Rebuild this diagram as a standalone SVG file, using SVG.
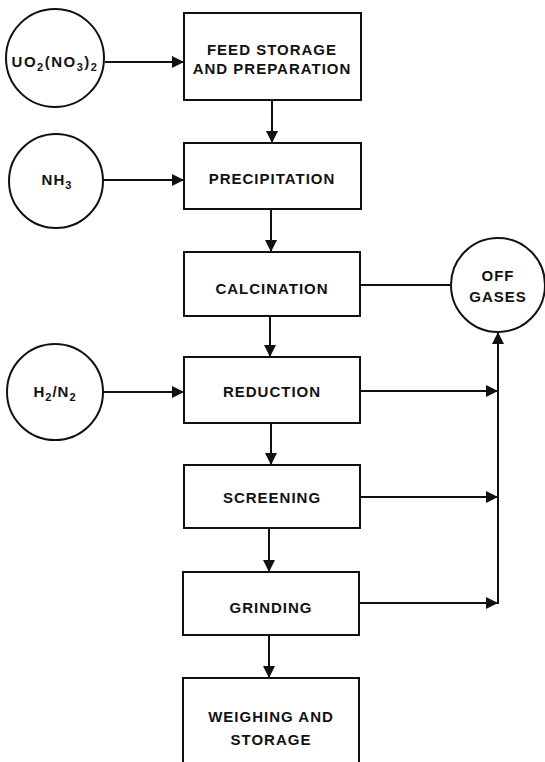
<svg xmlns="http://www.w3.org/2000/svg" width="545" height="762" viewBox="0 0 545 762">
<defs>
<style>
.box{fill:#fff;stroke:#111;stroke-width:2}
.circ{fill:#fff;stroke:#111;stroke-width:2}
.ln{fill:none;stroke:#111;stroke-width:2}
.t{font-family:"Liberation Sans",Arial,sans-serif;font-weight:bold;font-size:15px;letter-spacing:1px;fill:#111;text-anchor:middle}
.sub{font-size:11px}
</style>
<marker id="ah" viewBox="0 0 12 12" refX="12" refY="6" markerWidth="12" markerHeight="12" markerUnits="userSpaceOnUse" orient="auto">
<path d="M0,0 L12,6 L0,12 Z" fill="#111"/>
</marker>
</defs>
<rect width="545" height="762" fill="#fff"/>

<g id="connectors">
<line class="ln" x1="105" y1="62" x2="184" y2="62" marker-end="url(#ah)"/>
<line class="ln" x1="103" y1="180" x2="184" y2="180" marker-end="url(#ah)"/>
<line class="ln" x1="103" y1="392" x2="184" y2="392" marker-end="url(#ah)"/>
<line class="ln" x1="272" y1="100" x2="272" y2="143" marker-end="url(#ah)"/>
<line class="ln" x1="271" y1="209" x2="271" y2="252" marker-end="url(#ah)"/>
<line class="ln" x1="270" y1="316" x2="270" y2="357" marker-end="url(#ah)"/>
<line class="ln" x1="271" y1="423" x2="271" y2="465" marker-end="url(#ah)"/>
<line class="ln" x1="269" y1="528" x2="269" y2="572" marker-end="url(#ah)"/>
<line class="ln" x1="269" y1="635" x2="269" y2="678" marker-end="url(#ah)"/>
<line class="ln" x1="360" y1="285" x2="451" y2="285"/>
<line class="ln" x1="360" y1="391" x2="498" y2="391" marker-end="url(#ah)"/>
<line class="ln" x1="360" y1="497" x2="498" y2="497" marker-end="url(#ah)"/>
<line class="ln" x1="359" y1="603" x2="498" y2="603" marker-end="url(#ah)"/>
<line class="ln" x1="498" y1="604" x2="498" y2="332" marker-end="url(#ah)"/>
</g>

<g id="uo2">
<circle class="circ" cx="55" cy="58" r="49"/>
<text class="t" x="55" y="67" style="letter-spacing:1.5px">UO<tspan class="sub" dy="4">2</tspan><tspan dy="-4">(NO</tspan><tspan class="sub" dy="4">3</tspan><tspan dy="-4">)</tspan><tspan class="sub" dy="4">2</tspan></text>
</g>
<g id="nh3">
<circle class="circ" cx="56" cy="181" r="47"/>
<text class="t" x="57" y="185">NH<tspan class="sub" dy="4">3</tspan></text>
</g>
<g id="h2n2">
<circle class="circ" cx="55" cy="392" r="48"/>
<text class="t" x="55" y="397">H<tspan class="sub" dy="4">2</tspan><tspan dy="-4">/N</tspan><tspan class="sub" dy="4">2</tspan></text>
</g>
<g id="offgases">
<circle class="circ" cx="498" cy="285" r="47"/>
<text class="t" x="498" y="281">OFF</text>
<text class="t" x="498" y="302">GASES</text>
</g>

<g id="feed">
<rect class="box" x="184" y="13" width="177" height="87"/>
<text class="t" x="272" y="55">FEED STORAGE</text>
<text class="t" x="272" y="74">AND PREPARATION</text>
</g>
<g id="precipitation">
<rect class="box" x="184" y="143" width="177" height="66"/>
<text class="t" x="272" y="184">PRECIPITATION</text>
</g>
<g id="calcination">
<rect class="box" x="184" y="252" width="176" height="64"/>
<text class="t" x="272" y="294">CALCINATION</text>
</g>
<g id="reduction">
<rect class="box" x="184" y="357" width="176" height="66"/>
<text class="t" x="272" y="397">REDUCTION</text>
</g>
<g id="screening">
<rect class="box" x="184" y="465" width="176" height="63"/>
<text class="t" x="272" y="503">SCREENING</text>
</g>
<g id="grinding">
<rect class="box" x="183" y="572" width="176" height="63"/>
<text class="t" x="271" y="613">GRINDING</text>
</g>
<g id="weighing">
<rect class="box" x="183" y="678" width="176" height="100"/>
<text class="t" x="271" y="722">WEIGHING AND</text>
<text class="t" x="271" y="745">STORAGE</text>
</g>
</svg>
